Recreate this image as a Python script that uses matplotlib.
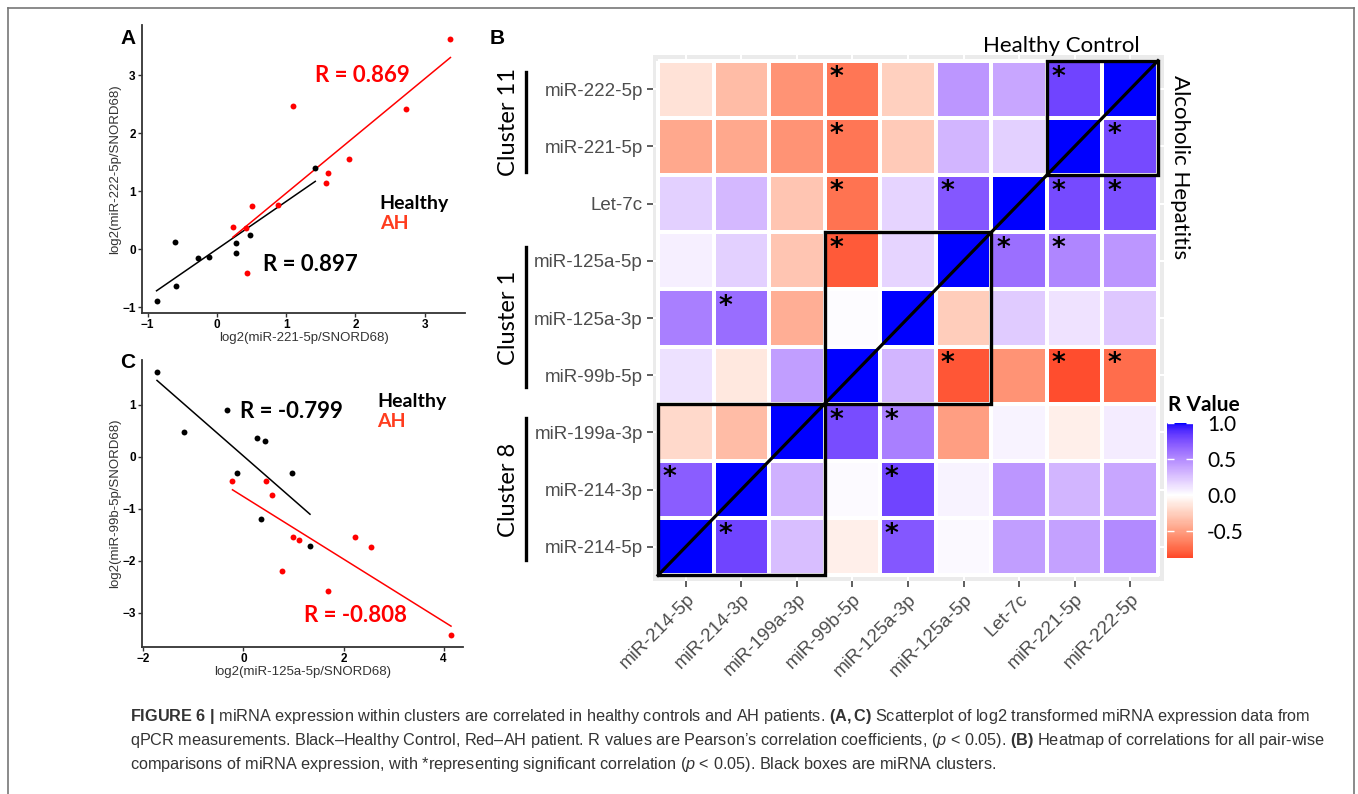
import numpy as np
import matplotlib
matplotlib.use('Agg')
import matplotlib.pyplot as plt
import matplotlib.transforms as mtransforms
from matplotlib.colors import ListedColormap, Normalize
from matplotlib.lines import Line2D
from matplotlib.patches import Rectangle

# ---- data: panel A (miR-221-5p vs miR-222-5p) ----
a_healthy_x = [-0.87, -0.59, -0.60, -0.27, -0.11, 0.27, 0.28, 0.48, 1.42]
a_healthy_y = [-0.89, -0.63, 0.13, -0.155, -0.13, -0.07, 0.10, 0.25, 1.41]
a_ah_x = [0.23, 0.42, 0.43, 0.50, 0.88, 1.10, 1.58, 1.61, 1.91, 2.73, 3.37]
a_ah_y = [0.38, 0.37, -0.41, 0.74, 0.76, 2.47, 1.14, 1.31, 1.55, 2.42, 3.63]
a_xticks = [-1, 0, 1, 2, 3]
a_yticks = [-1, 0, 1, 2, 3]

# ---- data: panel C (miR-125a-5p vs miR-99b-5p) ----
c_healthy_x = [-1.73, -1.19, -0.33, 0.27, 0.43, -0.13, 0.96, 0.35, 1.33]
c_healthy_y = [1.63, 0.47, 0.90, 0.365, 0.30, -0.31, -0.31, -1.19, -1.71]
c_ah_x = [-0.22, 0.45, 0.58, 0.99, 1.11, 0.77, 1.69, 2.22, 2.55, 4.15]
c_ah_y = [-0.46, -0.46, -0.73, -1.54, -1.60, -2.19, -2.58, -1.54, -1.74, -3.42]
c_xticks = [-2, 0, 2, 4]
c_yticks = [-3, -2, -1, 0, 1]

# ---- data: panel B heatmap (rows top->bottom, columns left->right) ----
row_labels = ['miR-222-5p', 'miR-221-5p', 'Let-7c', 'miR-125a-5p', 'miR-125a-3p',
              'miR-99b-5p', 'miR-199a-3p', 'miR-214-3p', 'miR-214-5p']
col_labels = ['miR-214-5p', 'miR-214-3p', 'miR-199a-3p', 'miR-99b-5p', 'miR-125a-3p',
              'miR-125a-5p', 'Let-7c', 'miR-221-5p', 'miR-222-5p']
r_values = [
    [-0.15, -0.35, -0.55, -0.68, -0.25, 0.45, 0.38, 0.80, 1.00],
    [-0.45, -0.45, -0.55, -0.68, -0.28, 0.32, 0.20, 1.00, 0.78],
    [0.20, 0.30, -0.30, -0.70, 0.18, 0.72, 1.00, 0.78, 0.75],
    [0.07, 0.20, -0.30, -0.80, 0.18, 1.00, 0.62, 0.52, 0.45],
    [0.55, 0.63, -0.42, 0.01, 1.00, -0.26, 0.22, 0.12, 0.24],
    [0.13, -0.12, 0.42, 1.00, 0.32, -0.82, -0.55, -0.85, -0.72],
    [-0.20, -0.35, 1.00, 0.77, 0.55, -0.50, 0.05, -0.08, 0.08],
    [0.70, 1.00, 0.33, 0.02, 0.80, 0.05, 0.45, 0.32, 0.38],
    [1.00, 0.80, 0.28, -0.08, 0.72, 0.03, 0.42, 0.40, 0.50],
]
significant = [(0, 3), (0, 7), (1, 3), (1, 8), (2, 3), (2, 5), (2, 7), (2, 8),
               (3, 3), (3, 6), (3, 7), (4, 1), (5, 5), (5, 7), (5, 8),
               (6, 3), (6, 4), (7, 0), (7, 4), (8, 1), (8, 4)]
cbar_ticks = [-0.5, 0.0, 0.5, 1.0]

caption = [
    r"$\mathbf{FIGURE\ 6\ |}$ miRNA expression within clusters are correlated in healthy controls and AH patients. "
    r"$\mathbf{(A,C)}$ Scatterplot of log2 transformed miRNA expression data from",
    r"qPCR measurements. Black–Healthy Control, Red–AH patient. R values are Pearson’s correlation coefficients, "
    r"($\mathit{p}$ < 0.05). $\mathbf{(B)}$ Heatmap of correlations for all pair-wise",
    r"comparisons of miRNA expression, with *representing significant correlation ($\mathit{p}$ < 0.05). "
    r"Black boxes are miRNA clusters.",
]

plt.rcParams['mathtext.fontset'] = 'custom'
plt.rcParams['mathtext.rm'] = 'Liberation Sans'
plt.rcParams['mathtext.bf'] = 'Liberation Sans:bold'
plt.rcParams['mathtext.it'] = 'Liberation Sans:italic'


# ggplot-like diverging palette (red - white - blue, interpolated in Lab)
M = np.array([[0.4124, 0.3576, 0.1805], [0.2126, 0.7152, 0.0722], [0.0193, 0.1192, 0.9505]])
WHITE = np.array([0.95047, 1.0, 1.08883])


def srgb_to_lab(c):
    c = np.asarray(c, float)
    lin = np.where(c <= 0.04045, c / 12.92, ((c + 0.055) / 1.055) ** 2.4)
    xyz = M @ lin / WHITE
    f = np.where(xyz > 0.008856, np.cbrt(xyz), 7.787 * xyz + 16 / 116)
    return np.array([116 * f[1] - 16, 500 * (f[0] - f[1]), 200 * (f[1] - f[2])])


def lab_to_srgb(lab):
    L, a, b = lab
    fy = (L + 16) / 116
    f = np.array([fy + a / 500, fy, fy - b / 200])
    xyz = np.where(f ** 3 > 0.008856, f ** 3, (f - 16 / 116) / 7.787) * WHITE
    lin = np.clip(np.linalg.inv(M) @ xyz, 0, None)
    c = np.where(lin <= 0.0031308, 12.92 * lin, 1.055 * lin ** (1 / 2.4) - 0.055)
    return np.clip(c, 0, 1)


low, mid, high = srgb_to_lab([1, 0, 0]), srgb_to_lab([1, 1, 1]), srgb_to_lab([0, 0, 1])
ramp = []
for t in np.linspace(0, 1, 256):
    if t < 0.5:
        ramp.append(lab_to_srgb(low + (mid - low) * t / 0.5))
    else:
        ramp.append(lab_to_srgb(mid + (high - mid) * (t - 0.5) / 0.5))
cmap = ListedColormap(ramp)

fig = plt.figure(figsize=(13.58, 7.94), dpi=100)
W, H = 1358.0, 794.0


def px_axes(left, top, right, bottom):
    return fig.add_axes([left / W, 1 - bottom / H, (right - left) / W, (bottom - top) / H])


def scatter_panel(ax, hx, hy, ahx, ahy, xticks, yticks, xlabel, ylabel):
    ax.scatter(hx, hy, s=18, color='black', zorder=3, linewidths=0)
    ax.scatter(ahx, ahy, s=18, color='#ff0000', zorder=3, linewidths=0)
    # least-squares lines over each group's x range
    for xs, ys, col in [(hx, hy, 'black'), (ahx, ahy, '#ff0000')]:
        k, b = np.polyfit(xs, ys, 1)
        xl = np.array([min(xs), max(xs)])
        ax.plot(xl, k * xl + b, color=col, lw=1.1, zorder=2)
    for s in ['top', 'right']:
        ax.spines[s].set_visible(False)
    for s in ['left', 'bottom']:
        ax.spines[s].set_color('#333333')
        ax.spines[s].set_linewidth(1.3)
    ax.set_xticks(xticks)
    ax.set_yticks(yticks)
    ax.tick_params(length=3, width=1, color='#333333', pad=1.5)
    for lab in ax.get_xticklabels() + ax.get_yticklabels():
        lab.set_fontfamily('Liberation Sans')
        lab.set_fontweight('bold')
        lab.set_fontsize(8.5)
    ax.set_xlabel(xlabel, fontsize=9.5, family='Liberation Sans', color='#333333', labelpad=0.5)
    ax.set_ylabel(ylabel, fontsize=9.5, family='Liberation Sans', color='#333333', labelpad=1)


# ---- panel A ----
axA = px_axes(142, 25, 465, 313)
scatter_panel(axA, a_healthy_x, a_healthy_y, a_ah_x, a_ah_y, a_xticks, a_yticks,
              'log2(miR-221-5p/SNORD68)', 'log2(miR-222-5p/SNORD68)')
axA.set_xlim(-1.08, 3.58)
axA.set_ylim(-1.10, 3.87)
axA.text(2.1, 3.0, 'R = 0.869', color='#ff0000', fontsize=16, fontweight='bold', family='Lato', ha='center', va='center')
axA.text(1.35, -0.27, 'R = 0.897', color='black', fontsize=16, fontweight='bold', family='Lato', ha='center', va='center')
axA.text(2.35, 0.79, 'Healthy', color='black', fontsize=14, fontweight='bold', family='Lato', va='center')
axA.text(2.35, 0.44, 'AH', color='#ff3c1e', fontsize=14, fontweight='bold', family='Lato', va='center')

# ---- panel C ----
axC = px_axes(142, 360, 463, 647)
scatter_panel(axC, c_healthy_x, c_healthy_y, c_ah_x, c_ah_y, c_xticks, c_yticks,
              'log2(miR-125a-5p/SNORD68)', 'log2(miR-99b-5p/SNORD68)')
axC.set_xlim(-2.03, 4.39)
axC.set_ylim(-3.66, 1.86)
axC.text(-0.07, 0.87, 'R = -0.799', color='black', fontsize=16, fontweight='bold', family='Lato', va='center')
axC.text(2.67, 1.06, 'Healthy', color='black', fontsize=14, fontweight='bold', family='Lato', va='center')
axC.text(2.67, 0.67, 'AH', color='#ff3c1e', fontsize=14, fontweight='bold', family='Lato', va='center')
axC.text(1.2, -3.05, 'R = -0.808', color='#ff0000', fontsize=16, fontweight='bold', family='Lato', va='center')

# ---- panel B heatmap ----
axB = px_axes(652.5, 55, 1163.5, 581)
axB.set_facecolor('#ebebeb')
n = len(row_labels)
edges = np.arange(n + 1) - 0.5
mesh = axB.pcolormesh(edges, edges, np.array(r_values), cmap=cmap, norm=Normalize(-1, 1),
                      edgecolors='white', linewidth=1.5, zorder=2)
axB.set_xlim(-0.6, n - 0.4)
axB.set_ylim(n - 0.4, -0.6)
axB.set_xticks(range(n))
axB.set_yticks(range(n))
axB.set_xticklabels(col_labels, rotation=45, ha='right', rotation_mode='anchor')
axB.set_yticklabels(row_labels)
axB.grid(color='white', linewidth=1.5, zorder=0)
axB.set_axisbelow(True)
for s in axB.spines.values():
    s.set_visible(False)
axB.tick_params(length=4, width=1.1, color='#333333', labelcolor='#4d4d4d', labelsize=13.5, pad=3)
for lab in axB.get_xticklabels() + axB.get_yticklabels():
    lab.set_fontfamily('Liberation Sans')

for r, c in significant:
    axB.text(c - 0.29, r - 0.2, '*', fontsize=19, fontweight='bold', ha='center', va='center',
             color='black', zorder=5)

axB.plot([-0.5, n - 0.5], [n - 0.5, -0.5], color='black', lw=2.3, zorder=4)
for (x0, y0, w) in [(-0.5, 5.5, 3), (2.5, 2.5, 3), (6.5, -0.5, 2)]:
    axB.add_patch(Rectangle((x0, y0), w, w, fill=False, lw=2.4, edgecolor='black', zorder=4))

blend = mtransforms.blended_transform_factory(axB.transAxes, axB.transData)
for name, yc, y0, y1 in [('Cluster 11', 0.58, -0.3, 1.44), ('Cluster 1', 4.0, 2.75, 5.21), ('Cluster 8', 7.0, 5.75, 8.23)]:
    axB.plot([-0.2476, -0.2476], [y0, y1], color='black', lw=2.4, transform=blend, clip_on=False)
    axB.text(-0.281, yc, name, rotation=90, ha='center', va='center', fontsize=17, family='Lato', transform=blend)

axB.text(0.801, 1.017, 'Healthy Control', ha='center', va='center', fontsize=16, family='Lato', transform=axB.transAxes)
axB.text(1.032, 0.787, 'Alcoholic Hepatitis', ha='center', va='center', rotation=-90, fontsize=16,
         family='Lato', transform=axB.transAxes)

# colorbar
cax = px_axes(1166.7, 423, 1193.3, 558)
cb = fig.colorbar(mesh, cax=cax, boundaries=np.linspace(-0.87, 1.0, 256), ticks=cbar_ticks)
cb.outline.set_visible(False)
cax.tick_params(axis='y', direction='in', color='white', length=5, width=1, left=True, right=True,
                labelleft=False, labelright=True, labelsize=15, pad=10)
cax.set_yticklabels(['%.1f' % t for t in cbar_ticks])
for lab in cax.get_yticklabels():
    lab.set_fontfamily('Lato')
fig.text(1168 / W, 1 - 405 / H, 'R Value', fontsize=15, fontweight='bold', family='Lato', va='center')

# panel letters
for letter, x, y in [('A', 128, 38), ('B', 497, 38), ('C', 128, 362)]:
    fig.text(x / W, 1 - y / H, letter, fontsize=15, fontweight='bold', family='Liberation Sans', ha='center', va='center')

# caption
for i, line in enumerate(caption):
    fig.text(130 / W, 1 - (717 + 24 * i) / H, line, fontsize=11.7, color='#333333', va='center',
             family='Liberation Sans')

# outer frame
for xs, ys in [([8, 8], [8, H]), ([8, 1354], [8, 8]), ([1354, 1354], [8, H])]:
    fig.add_artist(Line2D([x / W for x in xs], [1 - y / H for y in ys], color='#777777', lw=1.2,
                          transform=fig.transFigure))

fig.savefig('out.png', dpi=100)
